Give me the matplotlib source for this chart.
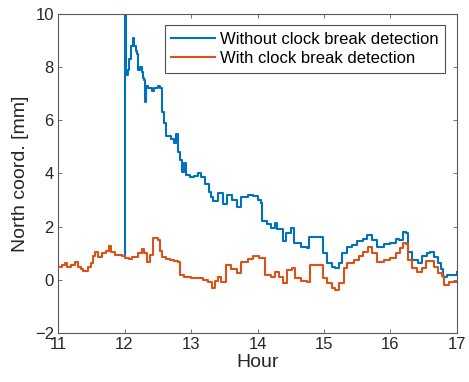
import matplotlib
matplotlib.use("Agg")
import matplotlib.pyplot as plt

plt.rcParams["font.family"] = ["Liberation Sans", "DejaVu Sans"]

# hour / north coordinate [mm]
HOUR_WITHOUT = [12.00, 12.005, 12.02, 12.05, 12.07, 12.10, 12.13, 12.15, 12.17, 12.19,
                12.20, 12.23, 12.26, 12.28, 12.30, 12.31, 12.33, 12.36, 12.41, 12.45,
                12.50, 12.53, 12.56, 12.60, 12.63, 12.70, 12.74, 12.77, 12.79, 12.80,
                12.84, 12.86, 12.90, 12.93, 12.98, 13.05, 13.10, 13.15, 13.21, 13.27,
                13.30, 13.33, 13.40, 13.48, 13.54, 13.62, 13.69, 13.75, 13.85, 13.93,
                14.00, 14.05, 14.07, 14.15, 14.20, 14.26, 14.30, 14.38, 14.43, 14.50,
                14.55, 14.65, 14.74, 14.78, 14.95, 14.98, 15.05, 15.12, 15.17, 15.22,
                15.27, 15.35, 15.42, 15.50, 15.58, 15.65, 15.72, 15.80, 15.90, 15.99,
                16.08, 16.13, 16.19, 16.24, 16.26, 16.33, 16.41, 16.48, 16.55, 16.59,
                16.65, 16.72, 16.76, 16.79, 16.85, 16.92, 17.00]
NORTH_WITHOUT = [0.86, 10.6, 7.7, 7.9, 8.3, 8.8, 9.1, 8.8, 8.6, 8.5,
                 7.9, 8.0, 7.8, 7.6, 7.5, 6.7, 7.3, 7.2, 7.1, 7.2,
                 7.3, 7.2, 6.3, 5.9, 5.4, 5.3, 5.15, 5.5, 5.5, 4.8,
                 4.5, 4.05, 4.4, 3.95, 3.85, 3.9, 4.0, 3.85, 3.6, 3.3,
                 3.1, 2.95, 3.25, 2.85, 3.2, 3.0, 2.75, 3.1, 3.2, 3.15,
                 3.0, 2.9, 2.2, 2.1, 1.95, 2.15, 1.9, 1.45, 1.75, 1.95,
                 1.4, 1.25, 1.2, 1.62, 1.6, 1.02, 0.65, 0.5, 0.45, 0.65,
                 1.0, 1.25, 1.3, 1.45, 1.55, 1.7, 1.5, 1.25, 1.35, 1.4,
                 1.55, 1.5, 1.8, 1.75, 1.05, 0.75, 0.65, 0.9, 1.0, 1.05,
                 0.85, 0.65, 0.4, 0.12, 0.2, 0.2, 0.3]

HOUR_WITH = [11.00, 11.06, 11.10, 11.14, 11.20, 11.26, 11.30, 11.35, 11.38, 11.45,
             11.50, 11.53, 11.56, 11.60, 11.66, 11.72, 11.77, 11.80, 11.86, 11.92,
             11.96, 12.00, 12.06, 12.12, 12.20, 12.26, 12.30, 12.34, 12.38, 12.43,
             12.50, 12.53, 12.56, 12.62, 12.68, 12.74, 12.80, 12.83, 12.90, 13.00,
             13.10, 13.18, 13.25, 13.32, 13.36, 13.40, 13.45, 13.52, 13.60, 13.69,
             13.75, 13.85, 13.93, 14.02, 14.07, 14.11, 14.20, 14.26, 14.32, 14.38,
             14.45, 14.52, 14.56, 14.65, 14.74, 14.79, 14.95, 14.98, 15.05, 15.12,
             15.17, 15.22, 15.30, 15.35, 15.45, 15.52, 15.59, 15.66, 15.72, 15.80,
             15.90, 15.99, 16.08, 16.15, 16.19, 16.24, 16.26, 16.33, 16.40, 16.47,
             16.53, 16.58, 16.65, 16.72, 16.77, 16.80, 16.88, 16.95, 17.00]
NORTH_WITH = [0.5, 0.55, 0.62, 0.5, 0.55, 0.68, 0.5, 0.4, 0.34, 0.5,
              0.62, 0.9, 1.05, 0.86, 1.0, 1.1, 1.28, 1.05, 0.94, 0.95,
              0.88, 0.83, 0.8, 0.86, 1.0, 1.17, 1.0, 0.68, 0.94, 1.58,
              1.5, 1.1, 0.86, 0.8, 0.75, 0.72, 0.68, 0.19, 0.11, 0.05,
              0.05, 0.0, -0.1, -0.3, -0.05, 0.11, -0.08, 0.56, 0.4, 0.26,
              0.68, 0.8, 0.9, 0.83, 0.83, 0.19, 0.11, 0.3, 0.1, -0.11,
              0.38, 0.45, 0.08, -0.05, -0.08, 0.56, 0.56, 0.08, -0.11, -0.3,
              -0.38, -0.11, 0.45, 0.64, 0.75, 0.9, 1.05, 1.24, 1.0, 0.68,
              0.75, 0.83, 1.0, 1.2, 1.4, 1.35, 0.75, 0.45, 0.3, 0.45,
              0.7, 0.72, 0.5, 0.25, 0.15, -0.19, -0.1, -0.08, -0.05]

LABELS = ["Without clock break detection", "With clock break detection"]
BLUE = "#0072BD"
ORANGE = "#D95319"
AXIS = "#5a5a5a"

fig = plt.figure(figsize=(4.69, 3.82), dpi=100)
ax = fig.add_axes([0.1237, 0.1283, 0.8507, 0.8351])

ax.plot(HOUR_WITHOUT, NORTH_WITHOUT, color=BLUE, linewidth=1.5,
        drawstyle="steps-post", label=LABELS[0])
ax.plot(HOUR_WITH, NORTH_WITH, color=ORANGE, linewidth=1.5,
        drawstyle="steps-post", label=LABELS[1])

ax.set_xlim(11, 17)
ax.set_ylim(-2, 10)
ax.set_xticks(range(11, 18))
ax.set_yticks(range(-2, 11, 2))
ax.tick_params(direction="in", top=True, right=True, length=3, width=0.6,
               colors=AXIS, labelcolor="#262626", labelsize=12, pad=3)
for side in ax.spines.values():
    side.set_color(AXIS)
    side.set_linewidth(0.8)

ax.set_xlabel("Hour", fontsize=14, color="#262626", labelpad=1)
ax.set_ylabel("North coord. [mm]", fontsize=14, color="#262626", labelpad=4)

leg = ax.legend(loc="upper right", bbox_to_anchor=(445 / 469, 1 - 25 / 382),
                bbox_transform=fig.transFigure, fontsize=12, frameon=True,
                fancybox=False, borderaxespad=0, handlelength=2.6,
                handletextpad=0.3, borderpad=0.4, labelspacing=0.25)
leg.get_frame().set_edgecolor("#262626")
leg.get_frame().set_linewidth(0.8)

fig.savefig("out.png", dpi=100, facecolor="white")
